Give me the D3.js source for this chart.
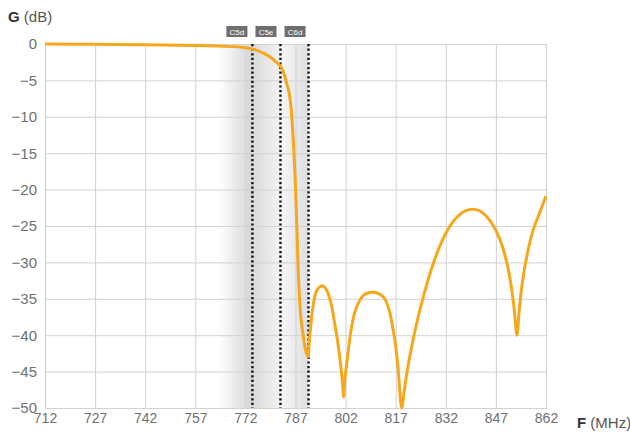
<!DOCTYPE html>
<html>
<head>
<meta charset="utf-8">
<script src="https://cdn.jsdelivr.net/npm/d3@7"></script>
<style>
  body { margin: 0; background: #fff; }
  text { font-family: "Liberation Sans", Arial, sans-serif; }
</style>
</head>
<body>
<svg id="chart" width="630" height="434"></svg>
<script>
// frequency response
var freq = [712, 727, 742, 757, 765, 772, 775, 778, 780, 781.5, 782.5, 783.5, 784.3, 785, 785.5, 785.9, 786.3, 786.7, 787, 787.4, 788, 788.6, 789.3, 790, 790.7,
  791.2, 792.1, 793, 793.9, 795.1, 796.3, 797.5, 798.6, 799.6, 800.5, 801.1, 801.4, 801.8, 802.6, 803.5, 805, 807.4, 810.4, 813.4, 815, 816.1, 817, 817.7,
  818.8, 819.6, 820.6, 822.4, 824, 826, 828, 830, 832, 834, 836, 838, 840, 842, 844, 846, 848, 850, 851.5, 852.5, 853.3,
  854, 855, 856.5, 858, 860, 862];
var gain = [0, -0.05, -0.1, -0.2, -0.3, -0.5, -0.8, -1.4, -2.0, -2.6, -3.0, -4.0, -5.3, -6.5, -8.0, -10, -13, -16.5, -19.5, -25, -33, -37.5, -40, -42, -43,
  -40.5, -36.5, -34.3, -33.5, -33.2, -33.8, -35.4, -38, -40.8, -44, -46.6, -48.5, -46, -43, -39.7, -36.5, -34.5, -34.1, -34.8, -36.5, -38.9, -41.5, -44.5,
  -50, -47.5, -44.5, -40.2, -37, -33.5, -30.5, -28, -26, -24.5, -23.5, -22.9, -22.7, -22.9, -23.6, -24.8, -26.6, -29.5, -33, -36.5, -40,
  -36.5, -32.5, -28.6, -25.8, -23.3, -20.9];

var xTicks = [712, 727, 742, 757, 772, 787, 802, 817, 832, 847, 862];
var yTicks = [0, -5, -10, -15, -20, -25, -30, -35, -40, -45, -50];

// channel edges (MHz) with their labels
var edgeFreq = [774.1, 782.5, 790.9];
var edgeLabel = ['C5d', 'C5e', 'C6d'];
// shaded bands between them
var bandFrom = [764, 774.1, 782.5];
var bandTo = [774.1, 782.5, 790.9];

(function () {
  var svg = d3.select('#chart');
  var pLeft = 45, pRight = 546, pTop = 44, pBottom = 408;

  var x = d3.scaleLinear().domain([712, 862]).range([pLeft, pRight]);
  var y = d3.scaleLinear().domain([-50, 0]).range([pBottom, pTop]);

  // gradients for the bands
  var defs = svg.append('defs');
  var bandColors = [['#ffffff', '#d4d4d4'], ['#dadada', '#f3f3f3'], ['#f7f7f7', '#dedfe3']];
  bandColors.forEach(function (c, i) {
    var g = defs.append('linearGradient').attr('id', 'band' + i)
      .attr('x1', '0%').attr('x2', '100%').attr('y1', '0%').attr('y2', '0%');
    g.append('stop').attr('offset', '0%').attr('stop-color', c[0]);
    g.append('stop').attr('offset', '100%').attr('stop-color', c[1]);
  });

  svg.selectAll('rect.band')
    .data(bandFrom)
    .enter().append('rect')
    .attr('class', 'band')
    .attr('x', function (d) { return x(d); })
    .attr('width', function (d, i) { return x(bandTo[i]) - x(d); })
    .attr('y', pTop)
    .attr('height', pBottom - pTop)
    .attr('fill', function (d, i) { return 'url(#band' + i + ')'; });

  // grid + axes
  svg.append('g')
    .attr('transform', 'translate(0,' + pBottom + ')')
    .call(d3.axisBottom(x).tickValues(xTicks).tickSize(-(pBottom - pTop)).tickFormat(d3.format('d')).tickPadding(5))
    .call(function (g) {
      g.select('.domain').attr('stroke', '#c8c8c8');
      g.selectAll('.tick line').attr('stroke', '#d2d2d2');
      g.selectAll('.tick text').attr('fill', '#707070').attr('font-size', 14);
    });

  svg.append('g')
    .attr('transform', 'translate(' + pLeft + ',0)')
    .call(d3.axisLeft(y).tickValues(yTicks).tickSize(-(pRight - pLeft)).tickPadding(8))
    .call(function (g) {
      g.select('.domain').attr('stroke', '#c8c8c8');
      g.selectAll('.tick line').attr('stroke', '#d2d2d2');
      g.selectAll('.tick text').attr('fill', '#707070').attr('font-size', 15);
    });

  // dotted channel edges
  svg.selectAll('line.edge')
    .data(edgeFreq)
    .enter().append('line')
    .attr('class', 'edge')
    .attr('x1', function (d) { return x(d); })
    .attr('x2', function (d) { return x(d); })
    .attr('y1', pTop)
    .attr('y2', pBottom)
    .attr('stroke', '#111')
    .attr('stroke-width', 2.4)
    .attr('stroke-dasharray', '2.2,2.4');

  var tags = svg.selectAll('g.tag')
    .data(edgeFreq)
    .enter().append('g')
    .attr('class', 'tag')
    .attr('transform', function (d, i) { return 'translate(' + (x(d) - 26 + i) + ',26)'; });
  tags.append('rect').attr('width', 21).attr('height', 11).attr('fill', '#6e6e6e');
  tags.append('text')
    .attr('x', 10.5).attr('y', 8.5)
    .attr('text-anchor', 'middle')
    .attr('font-size', 8)
    .attr('fill', '#fff')
    .text(function (d, i) { return edgeLabel[i]; });

  // response curve
  var pts = freq.map(function (f, i) { return [f, gain[i]]; });
  var line = d3.line()
    .x(function (d) { return x(d[0]); })
    .y(function (d) { return y(d[1]); })
    .curve(d3.curveCatmullRom.alpha(0.5));

  svg.append('path')
    .datum(pts)
    .attr('d', line)
    .attr('fill', 'none')
    .attr('stroke', '#f5a81c')
    .attr('stroke-width', 3)
    .attr('stroke-linejoin', 'round');

  // axis titles
  var yt = svg.append('text').attr('x', 8).attr('y', 22).attr('font-size', 15).attr('fill', '#333');
  yt.append('tspan').attr('font-weight', 'bold').text('G');
  yt.append('tspan').attr('fill', '#555').text(' (dB)');

  var xt = svg.append('text').attr('x', 577).attr('y', 428).attr('font-size', 15).attr('fill', '#333');
  xt.append('tspan').attr('font-weight', 'bold').text('F');
  xt.append('tspan').attr('fill', '#555').text(' (MHz)');
})();
</script>
</body>
</html>
